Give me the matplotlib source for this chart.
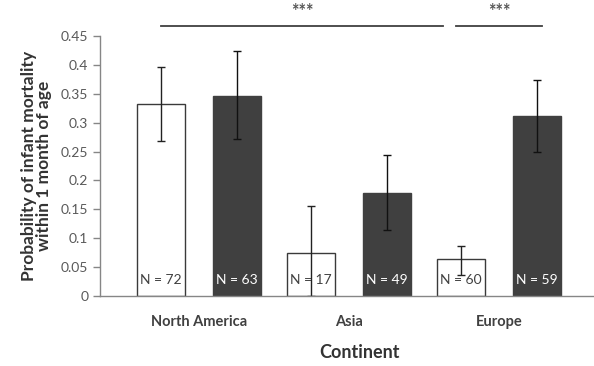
import matplotlib
matplotlib.use("Agg")
import matplotlib.pyplot as plt
import numpy as np

plt.rcParams["font.family"] = ["Lato", "DejaVu Sans"]

continents = ["North America", "Asia", "Europe"]
white_vals = [0.332, 0.075, 0.0635]
white_lo   = [0.269, 0.0, 0.036]
white_hi   = [0.396, 0.155, 0.087]
dark_vals  = [0.347, 0.179, 0.312]
dark_lo    = [0.272, 0.114, 0.249]
dark_hi    = [0.424, 0.244, 0.373]
white_n    = ["N = 72", "N = 17", "N = 60"]
dark_n     = ["N = 63", "N = 49", "N = 59"]

# significance brackets: (x start, x end, label)
sig_lines = [(-0.25, 1.627, "***"), (1.713, 2.287, "***")]

W, H = 594, 366
fig = plt.figure(figsize=(W / 100, H / 100), dpi=100)
ax = fig.add_axes([100 / W, 70 / H, 493 / W, 260 / H])

x = np.arange(len(continents))
off, bw = 0.253, 0.32
axis_grey = "#868686"
dark = "#404040"

def errs(vals, lo, hi):
    vals, lo, hi = map(np.array, (vals, lo, hi))
    return np.vstack([vals - lo, hi - vals])

ax.bar(x - off, white_vals, bw, color="white", edgecolor="#3a3a3a", linewidth=1.0,
       yerr=errs(white_vals, white_lo, white_hi),
       error_kw=dict(ecolor="#222222", elinewidth=1.0, capsize=3, capthick=1.0), zorder=2)
ax.bar(x + off, dark_vals, bw, color=dark, edgecolor=dark, linewidth=1.0,
       yerr=errs(dark_vals, dark_lo, dark_hi),
       error_kw=dict(ecolor="#111111", elinewidth=1.0, capsize=3, capthick=1.0), zorder=2)

for i in range(len(continents)):
    ax.text(x[i] - off, 0.028, white_n[i], ha="center", va="center",
            fontsize=10, color="#404040", zorder=4)
    ax.text(x[i] + off, 0.028, dark_n[i], ha="center", va="center",
            fontsize=10, color="white", zorder=4)

for x0, x1, lab in sig_lines:
    ax.plot([x0, x1], [0.468, 0.468], color="#404040", linewidth=1.3, clip_on=False)
    ax.text((x0 + x1) / 2, 0.478, lab, ha="center", va="bottom",
            fontsize=13, fontweight="bold", color="#555555", clip_on=False)

ax.set_xlim(-0.66, 2.627)
ax.set_ylim(0, 0.45)
ax.set_yticks(np.arange(0, 0.451, 0.05))
ax.set_yticklabels([f"{v:g}" for v in np.round(np.arange(0, 0.451, 0.05), 2)])
ax.tick_params(axis="y", colors=axis_grey, labelcolor="#595959", labelsize=10,
               length=5, width=1, direction="out")
ax.set_xticks(x)
ax.set_xticklabels(continents, fontweight="bold", fontsize=10.5, color="#404040")
ax.tick_params(axis="x", length=0, pad=14)

for s in ("top", "right"):
    ax.spines[s].set_visible(False)
for s in ("left", "bottom"):
    ax.spines[s].set_color(axis_grey)
    ax.spines[s].set_linewidth(1.0)

ax.set_ylabel("Probability of infant mortality\nwithin 1 month of age",
              fontweight="bold", fontsize=12.5, color="#333333", linespacing=0.95, labelpad=6)
fig.text(360 / W, 1 - 353 / H, "Continent", ha="center", va="center",
         fontweight="bold", fontsize=13, color="#333333")

fig.savefig("out.png", dpi=100)
